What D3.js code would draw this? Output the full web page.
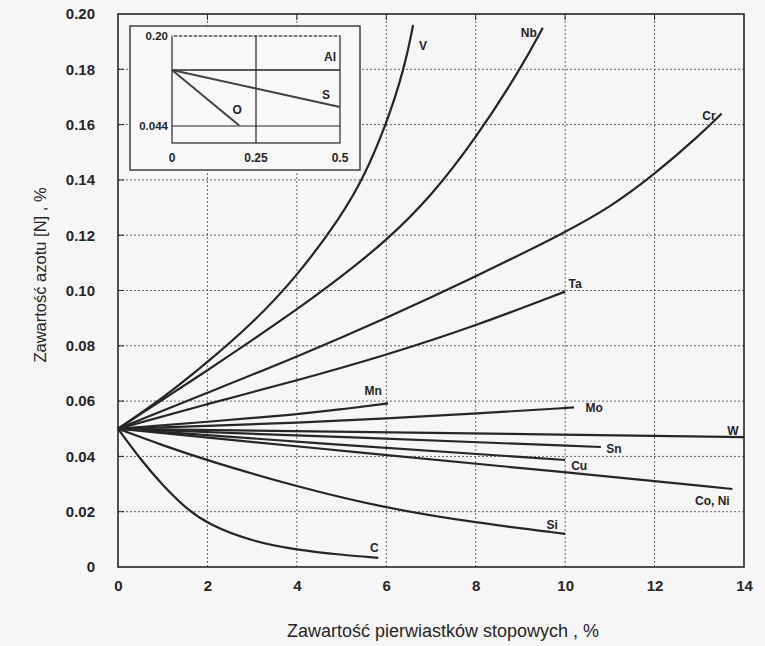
<!DOCTYPE html>
<html lang="pl">
<head>
<meta charset="UTF-8"/>
<title>Zawartość azotu</title>
<script src="https://d3js.org/d3.v7.min.js"></script>
<style>
    body { margin: 0; background: #f6f6f6; }
    svg { display: block; font-family: "Liberation Sans", Arial, sans-serif; }
</style>
</head>
<body>
<div id="chart"></div>
<script>
    // tick values
    const xTicks = [0, 2, 4, 6, 8, 10, 12, 14];
    const yTicks = [0, 0.02, 0.04, 0.06, 0.08, 0.10, 0.12, 0.14, 0.16, 0.18, 0.20];

    // series: [alloy content %, N %]
    const seriesV  = [[0,0.05],[1,0.061],[2,0.074],[3,0.088],[4,0.105],[5,0.127],[5.5,0.141],[6,0.16],[6.4,0.18],[6.6,0.196]];
    const seriesNb = [[0,0.05],[2,0.071],[4,0.093],[5,0.105],[6,0.118],[7,0.134],[8,0.155],[9,0.18],[9.5,0.195]];
    const seriesCr = [[0,0.05],[2,0.063],[4,0.076],[6,0.09],[8,0.105],[10,0.121],[11,0.13],[12,0.142],[13,0.156],[13.5,0.164]];
    const seriesTa = [[0,0.05],[2,0.059],[4,0.0674],[6,0.0766],[8,0.0872],[10,0.0996]];
    const seriesMn = [[0,0.05],[2,0.0525],[4,0.0552],[5,0.057],[6.04,0.0592]];
    const seriesMo = [[0,0.05],[2,0.051],[4,0.0522],[6,0.0537],[8,0.0555],[10.2,0.0577]];
    const seriesW  = [[0,0.05],[14,0.047]];
    const seriesSn = [[0,0.05],[5.4,0.0468],[10.8,0.0434]];
    const seriesCu = [[0,0.05],[5.4,0.0437],[10,0.0387]];
    const seriesCoNi = [[0,0.05],[5.4,0.0414],[10,0.0343],[13.74,0.0282]];
    const seriesSi = [[0,0.05],[1,0.044],[2,0.0385],[4,0.029],[6,0.0212],[8,0.016],[10,0.012]];
    const seriesC  = [[0,0.05],[0.5,0.039],[1,0.0295],[1.5,0.0215],[2,0.0155],[3,0.0092],[4,0.0062],[5,0.0044],[5.82,0.0033]];

    const seriesNames = ["V", "Nb", "Cr", "Ta", "Mn", "Mo", "W", "Sn", "Cu", "Co, Ni", "Si", "C"];
    const seriesData = [seriesV, seriesNb, seriesCr, seriesTa, seriesMn, seriesMo, seriesW, seriesSn, seriesCu, seriesCoNi, seriesSi, seriesC];

    // inset (small additions)
    const insetXTicks = [0, 0.25, 0.5];
    const insetYTicks = [0.044, 0.20];
    const insetAl = [[0,0.141],[0.5,0.141]];
    const insetS  = [[0,0.141],[0.25,0.109],[0.5,0.077]];
    const insetO  = [[0,0.141],[0.2,0.045]];
    const insetNames = ["Al", "S", "O"];
    const insetData = [insetAl, insetS, insetO];

    const w = 765, h = 646;
    const ink = "#262626";

    const svg = d3.select("#chart").append("svg")
        .attr("width", w)
        .attr("height", h);

    const x = d3.scaleLinear().domain([0, 14]).range([118, 744]);
    const y = d3.scaleLinear().domain([0, 0.2]).range([567, 14]);

    // dotted grid
    svg.append("g").selectAll("line")
        .data(xTicks.slice(1, -1))
        .enter().append("line")
        .attr("x1", d => x(d)).attr("x2", d => x(d))
        .attr("y1", y(0)).attr("y2", y(0.2))
        .attr("stroke", "#666").attr("stroke-width", 1)
        .attr("stroke-dasharray", "2,2");

    svg.append("g").selectAll("line")
        .data(yTicks.slice(1, -1))
        .enter().append("line")
        .attr("x1", x(0)).attr("x2", x(14))
        .attr("y1", d => y(d)).attr("y2", d => y(d))
        .attr("stroke", "#666").attr("stroke-width", 1)
        .attr("stroke-dasharray", "2,2");

    // tick labels
    const xAxis = svg.append("g")
        .attr("transform", `translate(0, ${y(0) + 10})`)
        .call(d3.axisBottom(x).tickValues(xTicks).tickSize(0).tickFormat(d3.format("d")));
    xAxis.select(".domain").remove();
    xAxis.selectAll("text")
        .attr("font-size", "15px").attr("font-weight", "bold").attr("fill", ink)
        .attr("font-family", "Liberation Sans, Arial, sans-serif");

    const yAxis = svg.append("g")
        .attr("transform", `translate(${x(0) - 20}, 0)`)
        .call(d3.axisLeft(y).tickValues(yTicks).tickSize(0).tickFormat(d => d === 0 ? "0" : d3.format(".2f")(d)));
    yAxis.select(".domain").remove();
    yAxis.selectAll("text")
        .attr("font-size", "15px").attr("font-weight", "bold").attr("fill", ink)
        .attr("font-family", "Liberation Sans, Arial, sans-serif");

    // curves
    const line = d3.line()
        .x(d => x(d[0]))
        .y(d => y(d[1]))
        .curve(d3.curveBasis);

    svg.append("g").selectAll("path")
        .data(seriesData)
        .enter().append("path")
        .attr("d", line)
        .attr("fill", "none")
        .attr("stroke", ink)
        .attr("stroke-width", 2.2);

    // curve labels, offset from each curve's last point (px)
    const labelOffset = {
        "V": [10, 25], "Nb": [-14, 9], "Cr": [-6, 6], "Ta": [10, -4], "Mn": [-15, -8],
        "Mo": [20, 5], "W": [-11, -2], "Sn": [13, 6], "Cu": [14, 10], "Co, Ni": [-20, 16],
        "Si": [-13, -5], "C": [-4, -6]
    };
    svg.append("g").selectAll("text")
        .data(seriesNames)
        .enter().append("text")
        .attr("x", (d, i) => x(seriesData[i][seriesData[i].length - 1][0]) + labelOffset[d][0])
        .attr("y", (d, i) => y(seriesData[i][seriesData[i].length - 1][1]) + labelOffset[d][1])
        .attr("text-anchor", d => d === "Cr" ? "end" : "middle")
        .attr("font-size", "12px")
        .attr("font-weight", "bold")
        .attr("fill", ink)
        .text(d => d);

    // frame with small inner ticks
    svg.append("rect")
        .attr("x", x(0)).attr("y", y(0.2))
        .attr("width", x(14) - x(0)).attr("height", y(0) - y(0.2))
        .attr("fill", "none").attr("stroke", ink).attr("stroke-width", 1.6);

    svg.append("g").selectAll("line")
        .data(yTicks.slice(1, -1))
        .enter().append("line")
        .attr("x1", x(0)).attr("x2", x(0) + 6)
        .attr("y1", d => y(d)).attr("y2", d => y(d))
        .attr("stroke", ink);
    svg.append("g").selectAll("line")
        .data(xTicks.slice(1, -1))
        .enter().append("line")
        .attr("x1", d => x(d)).attr("x2", d => x(d))
        .attr("y1", y(0.2)).attr("y2", y(0.2) + 6)
        .attr("stroke", ink);

    // inset
    const ix = d3.scaleLinear().domain([0, 0.5]).range([172, 340]);
    const iy = d3.scaleLinear().domain([0.0145, 0.2]).range([143, 36]);

    svg.append("rect")
        .attr("x", 130).attr("y", 26).attr("width", 230).attr("height", 144)
        .attr("fill", "#f8f8f8").attr("stroke", ink).attr("stroke-width", 1.3);

    const inset = svg.append("g");
    inset.append("rect")
        .attr("x", ix(0)).attr("y", iy(0.2))
        .attr("width", ix(0.5) - ix(0)).attr("height", iy(0.0145) - iy(0.2))
        .attr("fill", "none").attr("stroke", ink).attr("stroke-width", 1.2);
    inset.append("line")
        .attr("x1", ix(0)).attr("x2", ix(0.5))
        .attr("y1", iy(0.2)).attr("y2", iy(0.2))
        .attr("stroke", "#f8f8f8").attr("stroke-width", 1.4)
        .attr("stroke-dasharray", "2,3");
    inset.append("line")
        .attr("x1", ix(0.25)).attr("x2", ix(0.25))
        .attr("y1", iy(0.2)).attr("y2", iy(0.0145))
        .attr("stroke", ink).attr("stroke-width", 1.2);
    inset.append("line")
        .attr("x1", ix(0)).attr("x2", ix(0.5))
        .attr("y1", iy(0.044)).attr("y2", iy(0.044))
        .attr("stroke", ink).attr("stroke-width", 1.2);

    const iline = d3.line().x(d => ix(d[0])).y(d => iy(d[1]));
    inset.selectAll("path.il")
        .data(insetData)
        .enter().append("path")
        .attr("class", "il")
        .attr("d", iline)
        .attr("fill", "none")
        .attr("stroke", (d, i) => i === 0 ? ink : "#444")
        .attr("stroke-width", (d, i) => i === 0 ? 1.6 : 2);

    const insetLabelPos = { "Al": [-10, -9], "S": [-14, -8], "O": [-2, -11] };
    inset.selectAll("text.lab")
        .data(insetNames)
        .enter().append("text")
        .attr("class", "lab")
        .attr("x", (d, i) => ix(insetData[i][insetData[i].length - 1][0]) + insetLabelPos[d][0])
        .attr("y", (d, i) => iy(insetData[i][insetData[i].length - 1][1]) + insetLabelPos[d][1])
        .attr("text-anchor", "middle")
        .attr("font-size", "12px").attr("font-weight", "bold").attr("fill", ink)
        .text(d => d);

    inset.selectAll("text.xt")
        .data(insetXTicks)
        .enter().append("text")
        .attr("class", "xt")
        .attr("x", d => ix(d)).attr("y", 162)
        .attr("text-anchor", "middle")
        .attr("font-size", "12px").attr("font-weight", "bold").attr("fill", ink)
        .text(d => d === 0 ? "0" : String(d));

    inset.selectAll("text.yt")
        .data(insetYTicks)
        .enter().append("text")
        .attr("class", "yt")
        .attr("x", ix(0) - 4).attr("y", d => iy(d) + 4)
        .attr("text-anchor", "end")
        .attr("font-size", "11.5px").attr("font-weight", "bold").attr("fill", ink)
        .text(d => d === 0.2 ? "0.20" : String(d));

    // axis titles
    svg.append("text")
        .attr("x", 443).attr("y", 637)
        .attr("text-anchor", "middle")
        .attr("font-size", "18px")
        .attr("fill", ink)
        .text("Zawartość pierwiastków stopowych , %");

    svg.append("text")
        .attr("transform", "translate(46, 275) rotate(-90)")
        .attr("text-anchor", "middle")
        .attr("font-size", "16.5px")
        .attr("fill", ink)
        .text("Zawartość azotu [N] , %");
</script>
</body>
</html>
